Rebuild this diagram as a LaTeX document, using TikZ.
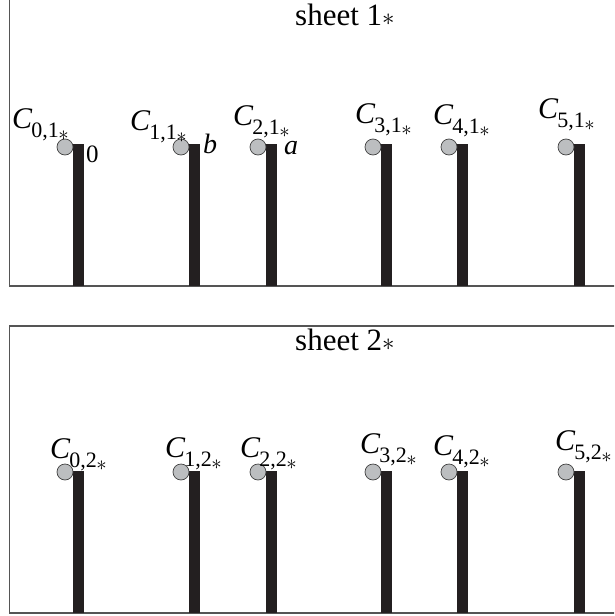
\documentclass[tikz,border=0pt]{standalone}
\usepackage{fontspec}
\setmainfont{Liberation Serif}
\definecolor{barcol}{HTML}{231F20}
\definecolor{pincol}{HTML}{BCBEC0}
\definecolor{framecol}{HTML}{555555}
\newcommand{\clab}[2]{\fontsize{30}{30}\selectfont\textit{C}\kern-1pt\raisebox{-9pt}{\fontsize{22}{22}\selectfont #1,#2\kern-0.5pt\raisebox{-3pt}{\fontsize{21}{21}\selectfont$\ast$}}}
\newcommand{\sheetlab}[1]{\fontsize{31}{31}\selectfont sheet #1\raisebox{0pt}{\fontsize{24}{24}\selectfont$\ast$}}
\tikzset{
  frame/.style={draw=framecol, line width=1.3pt},
  barshape/.style={fill=barcol},
  pin/.style={circle, draw=black!75, line width=0.7pt, fill=pincol, minimum size=16pt, inner sep=0pt},
  lab/.style={anchor=base west, inner sep=0pt},
}
\begin{document}
\begin{tikzpicture}[x=1pt,y=-1pt]
\useasboundingbox (0,0) rectangle (614,616);
\clip (0,0) rectangle (614,616);
% frames
\draw[frame] (9.5,-10) rectangle (640,286);
\draw[frame] (9.5,326) rectangle (640,613);
% titles
\node[lab] (s1) at (295,25) {\sheetlab{1}};
\node[lab] (s2) at (295,350) {\sheetlab{2}};
% bars and pins
\foreach \i/\xl/\xc in {0/73/65, 1/189/181, 2/266/258, 3/381/373, 4/457/449, 5/574/566} {
  \fill[barshape] (\xl,144) rectangle ++(11,142);
  \node[pin] (p\i t) at (\xc,147) {};
  \fill[barshape] (\xl,471) rectangle ++(11,142);
  \node[pin] (p\i b) at (\xc,472) {};
}
% labels top
\node[lab] (c0t) at (12,128) {\clab{0}{1}};
\node[lab] (c1t) at (130,130) {\clab{1}{1}};
\node[lab] (c2t) at (233,125) {\clab{2}{1}};
\node[lab] (c3t) at (355,123) {\clab{3}{1}};
\node[lab] (c4t) at (433,124) {\clab{4}{1}};
\node[lab] (c5t) at (538,118) {\clab{5}{1}};
% labels bottom
\node[lab] (c0b) at (50,458) {\clab{0}{2}};
\node[lab] (c1b) at (165,457) {\clab{1}{2}};
\node[lab] (c2b) at (240,457) {\clab{2}{2}};
\node[lab] (c3b) at (360,453) {\clab{3}{2}};
\node[lab] (c4b) at (433,455) {\clab{4}{2}};
\node[lab] (c5b) at (555,450) {\clab{5}{2}};
% endpoint labels
\node[lab] (zero) at (86,162) {\fontsize{25}{25}\selectfont 0};
\node[lab] (bl) at (203,153) {\fontsize{28}{28}\selectfont\textit{b}};
\node[lab] (al) at (284,154) {\fontsize{28}{28}\selectfont\textit{a}};
\end{tikzpicture}
\end{document}
